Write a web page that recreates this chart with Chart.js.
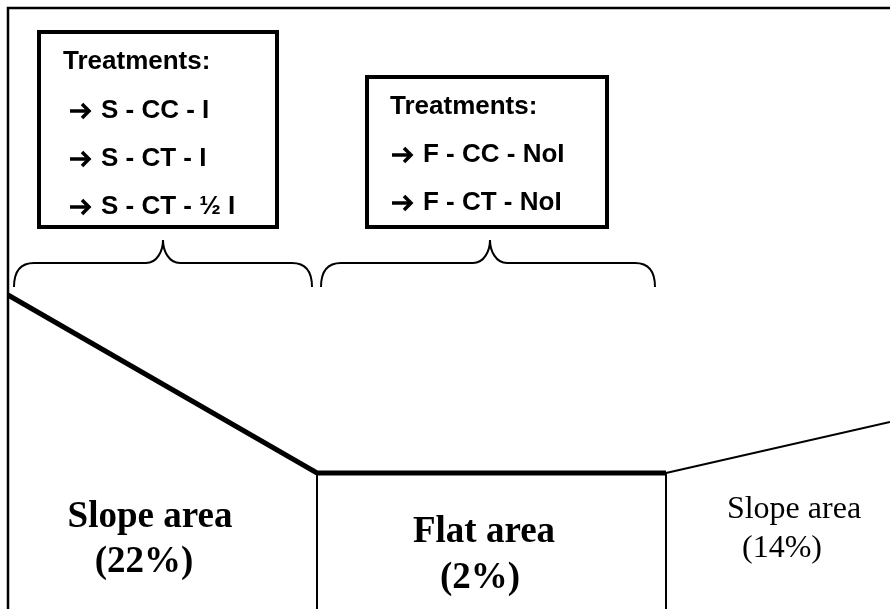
<!DOCTYPE html>
<html>
<head>
<meta charset="utf-8">
<script src="https://cdn.jsdelivr.net/npm/chart.js@4/dist/chart.umd.min.js"></script>
<style>
  body { margin: 0; background: #fff; }
  #wrap { width: 890px; height: 609px; position: relative; }
</style>
</head>
<body>
<div id="wrap"><canvas id="diagram"></canvas></div>
<script>
// field profile (x = horizontal distance, y = depth from top, both in drawing units)
const frameX = [8, 8, 890];
const frameY = [609, 8, 8];
const terrainX = [8, 317, 666];
const terrainY = [295, 473, 473];
const rightSlopeX = [666, 890];
const rightSlopeY = [473, 422];
const dividerX = [317, 666];
const dividerTop = 473;
const groundBottom = 609;

// treatment boxes: [left, right, top, bottom]
const box1 = [39, 277, 32, 227];
const box2 = [367, 607, 77, 227];
const box1Title = "Treatments:";
const box1Items = ["S - CC - I", "S - CT - I", "S - CT - \u00bd I"];
const box2Title = "Treatments:";
const box2Items = ["F - CC - NoI", "F - CT - NoI"];

// braces under the boxes
const braceFrom = [14, 321];
const braceTo = [312, 655];
const braceTip = [163, 490];

// area labels
const areaLabels = [
  ["Slope area", "(22%)"],
  ["Flat area", "(2%)"],
  ["Slope area", "(14%)"]
];

function pts(xs, ys) {
  return xs.map((x, i) => ({ x: x, y: ys[i] }));
}

function rect(b) {
  const mid = (b[0] + b[1]) / 2;
  return pts([mid, b[1], b[1], b[0], b[0], mid], [b[2], b[2], b[3], b[3], b[2], b[2]]);
}

function line(data, width) {
  return {
    data: data,
    showLine: true,
    borderColor: "#000",
    borderWidth: width,
    pointRadius: 0,
    tension: 0,
    fill: false,
    borderJoinStyle: "miter",
    borderCapStyle: "butt"
  };
}

const annotate = {
  id: "annotate",
  afterDatasetsDraw(chart) {
    const ctx = chart.ctx;
    const xs = chart.scales.x;
    const ys = chart.scales.y;
    const px = (v) => xs.getPixelForValue(v);
    const py = (v) => ys.getPixelForValue(v);

    ctx.save();
    ctx.strokeStyle = "#000";
    ctx.lineWidth = 2;
    // curly braces
    for (let i = 0; i < braceFrom.length; i++) {
      const x1 = px(braceFrom[i]);
      const x2 = px(braceTo[i]);
      const xm = px(braceTip[i]);
      const yEnd = py(287);
      const yMid = py(263);
      const yTip = py(240);
      ctx.beginPath();
      ctx.moveTo(x1, yEnd);
      ctx.quadraticCurveTo(x1, yMid, x1 + 20, yMid);
      ctx.lineTo(xm - 17, yMid);
      ctx.bezierCurveTo(xm - 6, yMid, xm, yMid - 12, xm, yTip);
      ctx.bezierCurveTo(xm, yMid - 12, xm + 6, yMid, xm + 17, yMid);
      ctx.lineTo(x2 - 20, yMid);
      ctx.quadraticCurveTo(x2, yMid, x2, yEnd);
      ctx.stroke();
    }

    // box text
    const textFont = "bold 26px 'Liberation Sans', Arial, sans-serif";
    ctx.fillStyle = "#000";
    ctx.textAlign = "left";
    ctx.textBaseline = "alphabetic";
    function item(t, x, y) {
      const ax = px(x);
      const ay = py(y) - 7;
      ctx.lineWidth = 3.5;
      ctx.lineJoin = "miter";
      ctx.lineCap = "butt";
      ctx.beginPath();
      ctx.moveTo(ax, ay);
      ctx.lineTo(ax + 18, ay);
      ctx.stroke();
      ctx.beginPath();
      ctx.moveTo(ax + 12, ay - 7);
      ctx.lineTo(ax + 19, ay);
      ctx.lineTo(ax + 12, ay + 7);
      ctx.stroke();
      ctx.font = textFont;
      ctx.fillText(t, px(x + 31), py(y));
    }
    ctx.font = textFont;
    ctx.fillText(box1Title, px(63), py(69));
    box1Items.forEach((t, i) => item(t, 70, 118 + i * 48));
    ctx.font = textFont;
    ctx.fillText(box2Title, px(390), py(114));
    box2Items.forEach((t, i) => item(t, 392, 162 + i * 48));

    // area labels
    ctx.textAlign = "center";
    ctx.font = "bold 37px 'Liberation Serif', 'Times New Roman', serif";
    ctx.fillText(areaLabels[0][0], px(150), py(527));
    ctx.fillText(areaLabels[0][1], px(144), py(572));
    ctx.fillText(areaLabels[1][0], px(484), py(542));
    ctx.fillText(areaLabels[1][1], px(480), py(588));
    ctx.font = "32px 'Liberation Serif', 'Times New Roman', serif";
    ctx.fillText(areaLabels[2][0], px(794), py(518));
    ctx.fillText(areaLabels[2][1], px(782), py(557));
    ctx.restore();
  }
};

new Chart(document.getElementById("diagram"), {
  type: "scatter",
  data: {
    datasets: [
      line(pts(frameX, frameY), 2.5),
      line(pts([dividerX[0], dividerX[0]], [dividerTop, groundBottom]), 2),
      line(pts([dividerX[1], dividerX[1]], [dividerTop, groundBottom]), 2),
      line(pts(rightSlopeX, rightSlopeY), 2),
      line(pts(terrainX, terrainY), 5),
      line(rect(box1), 4),
      line(rect(box2), 4)
    ]
  },
  options: {
    responsive: true,
    maintainAspectRatio: false,
    animation: false,
    events: [],
    layout: { padding: 0 },
    plugins: {
      legend: { display: false },
      tooltip: { enabled: false }
    },
    scales: {
      x: { type: "linear", min: 0, max: 890, display: false },
      y: { type: "linear", min: 0, max: 609, reverse: true, display: false }
    }
  },
  plugins: [annotate]
});
</script>
</body>
</html>
